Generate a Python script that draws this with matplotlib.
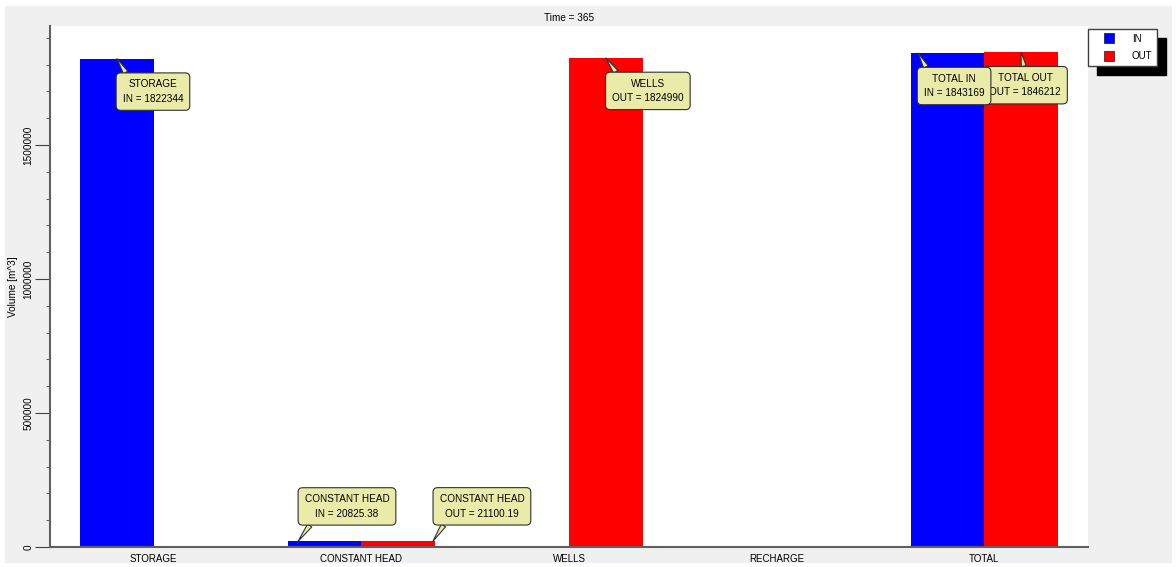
import matplotlib.pyplot as plt
import numpy as np
from matplotlib.patches import Rectangle
from matplotlib.lines import Line2D

plt.rcParams['font.family'] = ['Liberation Sans', 'DejaVu Sans']

categories = ['STORAGE', 'CONSTANT HEAD', 'WELLS', 'RECHARGE', 'TOTAL']
vol_in = [1822344, 20825.38, 0, 0, 1843169]
vol_out = [0, 21100.19, 1824990, 0, 1846212]

# callouts: (category index, series, title, label)
notes = [
    (0, 'in', 'STORAGE', 'IN = 1822344'),
    (1, 'in', 'CONSTANT HEAD', 'IN = 20825.38'),
    (1, 'out', 'CONSTANT HEAD', 'OUT = 21100.19'),
    (2, 'out', 'WELLS', 'OUT = 1824990'),
    (4, 'out', 'TOTAL OUT', 'OUT = 1846212'),
    (4, 'in', 'TOTAL IN', 'IN = 1843169'),
]
# layout of the callouts: tip shift (data units), box offset (pixels), tail anchor
note_layout = [
    (0.0, (36, -33), (0.12, 1)),
    (-0.128, (49, 35), (0.12, 0)),
    (0.167, (49, 35), (0.1, 0)),
    (0.0, (42, -33), (0.12, 1)),
    (0.0, (4, -33), (0.5, 1)),
    (-0.141, (36, -33), (0.1, 1)),
]

fig = plt.figure(figsize=(11.76, 5.67), dpi=100, facecolor='white')
fig.patches.append(Rectangle((5 / 1176, 5 / 567), 1166 / 1176, 556 / 567,
                             transform=fig.transFigure, color='#f0f0f0', zorder=-10))
ax = fig.add_axes([50 / 1176, 20 / 567, 1038 / 1176, 521 / 567])
ax.set_facecolor('white')

x = np.arange(len(categories))
w = 0.355
ax.bar(x - w / 2, vol_in, w, color='#0000ff', label='IN')
ax.bar(x + w / 2, vol_out, w, color='#ff0000', label='OUT')

ax.set_xlim(-0.5, 4.5)
ax.set_ylim(0, 1944000)
ax.set_xticks(x)
ax.set_xticklabels(categories, fontsize=7)
ax.set_yticks([0, 500000, 1000000, 1500000])
ax.set_yticks(np.arange(0, 1900001, 100000), minor=True)
ax.set_yticklabels(['0', '500000', '1000000', '1500000'], rotation=90, va='center', fontsize=7.2)
ax.tick_params(axis='y', which='major', length=11, color='#404040', pad=1)
ax.tick_params(axis='y', which='minor', length=3, color='#404040')
ax.tick_params(axis='x', length=0, pad=5)
for s in ['top', 'right']:
    ax.spines[s].set_visible(False)
for s in ['left', 'bottom']:
    ax.spines[s].set_color('#606060')
    ax.spines[s].set_linewidth(1.5)

ax.set_ylabel('Volume [m^3]', fontsize=7.2, labelpad=4)
fig.text(569 / 1176, 1 - 18 / 567, 'Time = 365', ha='center', va='center', fontsize=7.2)

for (i, ser, t1, t2), (dx, off, rel) in zip(notes, note_layout):
    if ser == 'in':
        xp, yp = x[i] - w / 2, vol_in[i]
    else:
        xp, yp = x[i] + w / 2, vol_out[i]
    ax.annotate(t1 + '\n' + t2, xy=(xp + dx, yp), xytext=(off[0] * 0.72, off[1] * 0.72),
                textcoords='offset points', ha='center', va='center', fontsize=7.2,
                linespacing=1.55,
                bbox=dict(boxstyle='round,pad=0.65,rounding_size=0.45', fc='#ebeba9',
                          ec='#303030', lw=0.8),
                arrowprops=dict(arrowstyle='wedge,tail_width=0.5', fc='#ebeba9', ec='#303030',
                                lw=0.8, shrinkA=0, shrinkB=0, relpos=rel),
                zorder=5)

handles = [Line2D([], [], marker='s', ls='', markersize=7.5, mfc='#0000ff', mec='#202060', mew=0.6),
           Line2D([], [], marker='s', ls='', markersize=7.5, mfc='#ff0000', mec='#602020', mew=0.6)]
leg = fig.legend(handles, ['IN', 'OUT'], loc='upper left',
                 bbox_to_anchor=(1088 / 1176, 1 - 29 / 567), bbox_transform=fig.transFigure,
                 borderaxespad=0, fontsize=7, frameon=True, fancybox=False,
                 edgecolor='#404040', handlelength=3.4, handletextpad=0.6,
                 borderpad=0.5, labelspacing=0.75,
                 shadow={'ox': 6.5, 'oy': -6.5, 'color': 'black', 'alpha': 1})
leg.get_frame().set_linewidth(1.0)

plt.savefig('out.png', dpi=100, facecolor=fig.get_facecolor())
